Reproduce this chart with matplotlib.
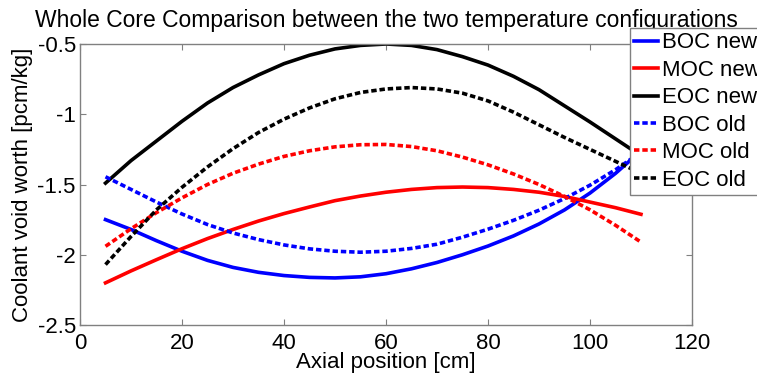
import numpy as np
import matplotlib
matplotlib.use("Agg")
import matplotlib.pyplot as plt

plt.rcParams['font.family'] = ['Liberation Sans', 'DejaVu Sans']
plt.rcParams['axes.unicode_minus'] = False

# axial positions [cm]
pos = [5, 10, 15, 20, 25, 30, 35, 40, 45, 50, 55, 60, 65, 70, 75, 80, 85, 90, 95, 100, 105, 110]

# coolant void worth [pcm/kg], new temperature configuration
boc_new = [-1.75, -1.82, -1.90, -1.975, -2.04, -2.09, -2.125, -2.148, -2.161, -2.165, -2.157,
           -2.135, -2.10, -2.055, -2.00, -1.938, -1.866, -1.781, -1.681, -1.561, -1.421, -1.261]
moc_new = [-2.20, -2.115, -2.035, -1.957, -1.885, -1.82, -1.76, -1.707, -1.66, -1.615, -1.582,
           -1.555, -1.535, -1.522, -1.518, -1.522, -1.535, -1.555, -1.585, -1.625, -1.665, -1.712]
eoc_new = [-1.49, -1.33, -1.19, -1.05, -0.92, -0.81, -0.72, -0.64, -0.58, -0.535, -0.51,
           -0.50, -0.51, -0.54, -0.59, -0.65, -0.73, -0.825, -0.94, -1.055, -1.175, -1.295]

# old temperature configuration
boc_old = [-1.445, -1.535, -1.625, -1.71, -1.785, -1.845, -1.892, -1.93, -1.958, -1.975, -1.982,
           -1.975, -1.955, -1.925, -1.875, -1.818, -1.755, -1.683, -1.60, -1.505, -1.395, -1.27]
moc_old = [-1.94, -1.815, -1.70, -1.595, -1.50, -1.42, -1.355, -1.30, -1.26, -1.232, -1.217,
           -1.215, -1.23, -1.26, -1.305, -1.36, -1.425, -1.50, -1.585, -1.68, -1.79, -1.91]
eoc_old = [-2.07, -1.87, -1.68, -1.52, -1.375, -1.245, -1.13, -1.035, -0.955, -0.89, -0.845,
           -0.82, -0.81, -0.82, -0.85, -0.905, -0.985, -1.075, -1.165, -1.25, -1.335, -1.42]

fig = plt.figure(figsize=(7.57, 3.78), dpi=100)
ax = fig.add_axes([0.1057, 0.1402, 0.8084, 0.7434])

lw = 2.6
dash = (0, (1.5, 0.8))
ax.plot(pos, boc_new, color='b', lw=lw, label='BOC new')
ax.plot(pos, moc_new, color='r', lw=lw, label='MOC new')
ax.plot(pos, eoc_new, color='k', lw=lw, label='EOC new')
ax.plot(pos, boc_old, color='b', lw=lw, ls=dash, label='BOC old')
ax.plot(pos, moc_old, color='r', lw=lw, ls=dash, label='MOC old')
ax.plot(pos, eoc_old, color='k', lw=lw, ls=dash, label='EOC old')

ax.set_xlim(0, 120)
ax.set_ylim(-2.5, -0.5)
ax.set_xticks([0, 20, 40, 60, 80, 100, 120])
ax.set_yticks([-2.5, -2, -1.5, -1, -0.5])
ax.set_yticklabels(['-2.5', '-2', '-1.5', '-1', '-0.5'])

for s in ax.spines.values():
    s.set_color('#808080')
    s.set_linewidth(1.0)
ax.tick_params(direction='in', length=4, width=0.8, color='#808080',
               labelsize=16, top=True, right=True)
ax.tick_params(axis='x', pad=5.5)
ax.tick_params(axis='y', pad=3)

ax.set_title('Whole Core Comparison between the two temperature configurations',
             fontsize=16.5, pad=12)
ax.set_xlabel('Axial position [cm]', fontsize=16, labelpad=-1)
ax.set_ylabel('Coolant void worth [pcm/kg]', fontsize=16, labelpad=3)

leg = ax.legend(loc='upper left', bbox_to_anchor=(630 / 757, 1 - 28 / 378),
                bbox_transform=fig.transFigure, fontsize=16, frameon=True,
                fancybox=False, borderpad=0.2, labelspacing=0.29,
                handlelength=1.05, handletextpad=0.2, borderaxespad=0)
leg.get_frame().set_edgecolor('#808080')
leg.get_frame().set_linewidth(1.0)
leg.get_frame().set_alpha(1)

fig.savefig('out.png', dpi=100)
